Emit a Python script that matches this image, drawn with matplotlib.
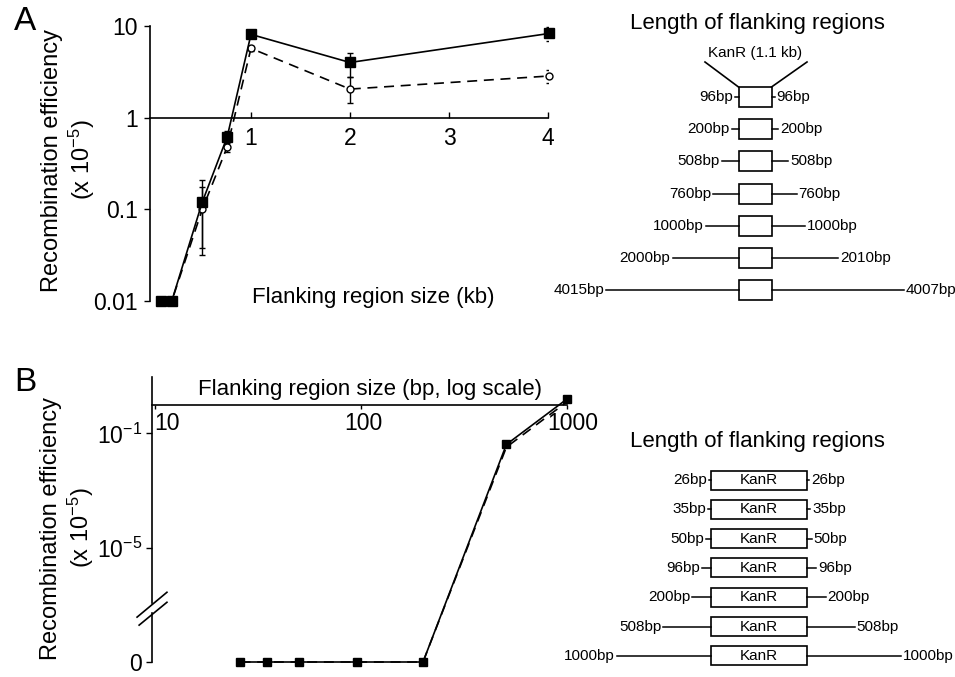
import numpy as np
import matplotlib
matplotlib.use('Agg')
import matplotlib.pyplot as plt
from matplotlib.patches import Rectangle
from matplotlib import transforms
from matplotlib.ticker import NullLocator

plt.rcParams['font.family'] = ['Liberation Sans', 'DejaVu Sans']
plt.rcParams['mathtext.fontset'] = 'custom'
plt.rcParams['mathtext.rm'] = 'Liberation Sans'
plt.rcParams['mathtext.it'] = 'Liberation Sans:italic'
plt.rcParams['mathtext.bf'] = 'Liberation Sans:bold'

W, H = 955, 677

# Panel A: recombination efficiency vs flanking region size (kb)
flank_a_left = [96, 200, 508, 760, 1000, 2000, 4015]
flank_a_right = [96, 200, 508, 760, 1000, 2010, 4007]
eff_a_solid = [0.01, 0.01, 0.12, 0.62, 8.1, 4.0, 8.3]
eff_a_solid_lo = [0.01, 0.01, 0.038, 0.53, 7.6, 2.8, 6.8]
eff_a_solid_hi = [0.01, 0.01, 0.21, 0.72, 8.6, 5.1, 9.8]
eff_a_dash = [0.01, 0.01, 0.10, 0.48, 5.7, 2.05, 2.85]
eff_a_dash_lo = [0.01, 0.01, 0.032, 0.42, 5.3, 1.46, 2.4]
eff_a_dash_hi = [0.01, 0.01, 0.176, 0.55, 6.1, 2.75, 3.3]
ticks_a_x = [1, 2, 3, 4]
ticks_a_y = [0.01, 0.1, 1, 10]
ticklabels_a_y = ['0.01', '0.1', '1', '10']

# Panel B: short flanks (bp, log scale); 0 = no recombinants
flank_b = [26, 35, 50, 96, 200, 508, 1000]
eff_b_solid = [0, 0, 0, 0, 0, 0.041, 1.6]
eff_b_dash = [0, 0, 0, 0, 0, 0.033, 1.27]
ticks_b_x = [10, 100, 1000]
ticklabels_b_x = ['10', '100', '1000']
ticks_b_y = [1e-9, 1e-5, 1e-1]
ticklabels_b_y = ['0', '$10^{-5}$', '$10^{-1}$']
ZERO_POS = 1e-9


def rect(left, top, right, bottom):
    return [left / W, 1 - bottom / H, (right - left) / W, (bottom - top) / H]


def fpos(x, y):
    return x / W, 1 - y / H


fig = plt.figure(figsize=(9.55, 6.77), dpi=100)

# ---------------- Panel A plot ----------------
axA = fig.add_axes(rect(150, 26, 548, 301))
axA.set_yscale('log')
axA.set_ylim(0.01, 10)
axA.set_xlim(-0.02, 4.0)
xa = np.array(flank_a_left) / 1000
ya = np.array(eff_a_solid)
yd = np.array(eff_a_dash)
axA.errorbar(xa, ya, yerr=[ya - np.array(eff_a_solid_lo), np.array(eff_a_solid_hi) - ya],
             fmt='none', ecolor='black', elinewidth=1, capsize=2.5, capthick=1, zorder=2)
axA.errorbar(xa, yd, yerr=[yd - np.array(eff_a_dash_lo), np.array(eff_a_dash_hi) - yd],
             fmt='none', ecolor='black', elinewidth=1, capsize=2.5, capthick=1, zorder=2)
axA.plot(xa, yd, color='black', lw=1.2, ls='--', dashes=(6, 4), marker='o', ms=5,
         mfc='white', mec='black', mew=1, clip_on=False, zorder=3)
axA.plot(xa, ya, color='black', lw=1.2, marker='s', ms=7, clip_on=False, zorder=4)

for s in ['top', 'right']:
    axA.spines[s].set_visible(False)
axA.spines['bottom'].set_position(('data', 1))
axA.spines['left'].set_linewidth(1.2)
axA.spines['bottom'].set_linewidth(1.2)
axA.set_xticks(ticks_a_x)
axA.set_xticklabels([str(t) for t in ticks_a_x])
axA.set_yticks(ticks_a_y)
axA.set_yticklabels(ticklabels_a_y)
axA.yaxis.set_minor_locator(NullLocator())
axA.tick_params(axis='x', direction='in', length=4, width=1, pad=7, labelsize=16.5)
axA.tick_params(axis='y', direction='out', length=4, width=1, pad=5, labelsize=16.5)
axA.set_facecolor('none')

fig.text(*fpos(373, 297), 'Flanking region size (kb)', fontsize=16, ha='center', va='center')
fig.text(*fpos(69, 160), 'Recombination efficiency\n(x 10$^{-5}$)', fontsize=17,
         rotation=90, ha='center', va='center')
fig.text(*fpos(25, 21), 'A', fontsize=24, ha='center', va='center')

# ---------------- Panel B plot ----------------
axB = fig.add_axes(rect(152, 377, 567, 662))
axB.set_xscale('log')
axB.set_yscale('log')
axB.set_xlim(9.67, 1000)
axB.set_ylim(ZERO_POS, 9.4)
xb = np.array(flank_b, dtype=float)
yb_s = np.where(np.array(eff_b_solid) > 0, eff_b_solid, ZERO_POS)
yb_d = np.where(np.array(eff_b_dash) > 0, eff_b_dash, ZERO_POS)
axB.plot(xb, yb_d, color='black', lw=1.2, ls='--', dashes=(6, 4), clip_on=False, zorder=3)
axB.plot(xb, yb_s, color='black', lw=1.2, marker='s', ms=5.5, clip_on=False, zorder=4)

for s in ['top', 'right', 'left']:
    axB.spines[s].set_visible(False)
axB.spines['bottom'].set_position(('data', 1))
axB.spines['bottom'].set_linewidth(1.2)
axB.set_xticks(ticks_b_x)
axB.set_xticklabels([])
axB.xaxis.set_minor_locator(NullLocator())
axB.set_yticks(ticks_b_y)
axB.set_yticklabels(ticklabels_b_y)
axB.yaxis.set_minor_locator(NullLocator())
axB.tick_params(axis='x', direction='out', length=3, width=1)
axB.tick_params(axis='y', direction='out', length=4, width=1, pad=3, labelsize=16.5)
axB.set_facecolor('none')

# x tick labels just under the axis line
for v, lab, dx in zip(ticks_b_x, ticklabels_b_x, [12, 2, 6]):
    tr = transforms.offset_copy(axB.transData, fig=fig, x=dx, y=-19, units='dots')
    axB.text(v, 1, lab, transform=tr, fontsize=16.5, ha='center', va='center', clip_on=False)

# broken y axis
bl = transforms.blended_transform_factory(axB.transAxes, axB.transData)
axB.plot([0, 0], [ZERO_POS, 10 ** -7.29], transform=bl, color='black', lw=1.2, clip_on=False)
axB.plot([0, 0], [10 ** -6.94, 9.4], transform=bl, color='black', lw=1.2, clip_on=False)
axB.plot([-0.036, 0.036], [10 ** -7.43, 10 ** -6.56], transform=bl, color='black', lw=1.2, clip_on=False)
axB.plot([-0.031, 0.036], [10 ** -7.71, 10 ** -6.91], transform=bl, color='black', lw=1.2, clip_on=False)

fig.text(*fpos(370, 389), 'Flanking region size (bp, log scale)', fontsize=16, ha='center', va='center')
fig.text(*fpos(68, 528), 'Recombination efficiency\n(x 10$^{-5}$)', fontsize=17,
         rotation=90, ha='center', va='center')
fig.text(*fpos(25, 382), 'B', fontsize=24, ha='center', va='center')


# ---------------- flank diagrams ----------------
def draw_flanks(ax, left_bp, right_bp, box_bp, box_h, box_label):
    half = box_bp / 2
    lt = transforms.offset_copy(ax.transData, fig=fig, x=-2, units='dots')
    rt = transforms.offset_copy(ax.transData, fig=fig, x=2, units='dots')
    for i, (l, r) in enumerate(zip(left_bp, right_bp)):
        ax.plot([-half - l, -half], [i, i], color='black', lw=1.1)
        ax.plot([half, half + r], [i, i], color='black', lw=1.1)
        ax.add_patch(Rectangle((-half, i - box_h / 2), box_bp, box_h, facecolor='white',
                               edgecolor='black', lw=1.2))
        ax.text(-half - l, i, f'{l}bp', transform=lt, ha='right', va='center', fontsize=11)
        ax.text(half + r, i, f'{r}bp', transform=rt, ha='left', va='center', fontsize=11,
                clip_on=False)
        if box_label:
            ax.text(0, i, box_label, ha='center', va='center', fontsize=11)


# diagram A: 0.033 px per bp, box centred at x=755 px, rows every 32.2 px from y=97
scale_a, cx_a, y0_a, dy_a = 0.033, 755, 97, 32.17
dA = fig.add_axes(rect(590, 40, 955, 310))
dA.axis('off')
dA.set_xlim((590 - cx_a) / scale_a, (955 - cx_a) / scale_a)
dA.set_ylim((310 - y0_a) / dy_a, (40 - y0_a) / dy_a)
draw_flanks(dA, flank_a_left, flank_a_right, 1000, 20 / dy_a, None)
top_row = -10 / dy_a
funnel_y = (62 - y0_a) / dy_a
dA.plot([(705 - cx_a) / scale_a, -500], [funnel_y, top_row], color='black', lw=1.2)
dA.plot([(807 - cx_a) / scale_a, 500], [funnel_y, top_row], color='black', lw=1.2)
dA.text(0, (53 - y0_a) / dy_a, 'KanR (1.1 kb)', ha='center', va='center', fontsize=11)
fig.text(*fpos(757, 23), 'Length of flanking regions', fontsize=16, ha='center', va='center')

# diagram B: 0.094 px per bp, box centred at x=759 px, rows every 29.33 px from y=480
scale_b, cx_b, y0_b, dy_b = 0.094, 759, 480, 29.33
dB = fig.add_axes(rect(560, 460, 955, 677))
dB.axis('off')
dB.set_xlim((560 - cx_b) / scale_b, (955 - cx_b) / scale_b)
dB.set_ylim((677 - y0_b) / dy_b, (460 - y0_b) / dy_b)
draw_flanks(dB, flank_b, flank_b, 1020, 19 / dy_b, 'KanR')
fig.text(*fpos(757, 442), 'Length of flanking regions', fontsize=16, ha='center', va='center')

plt.savefig('out.png', dpi=100)
